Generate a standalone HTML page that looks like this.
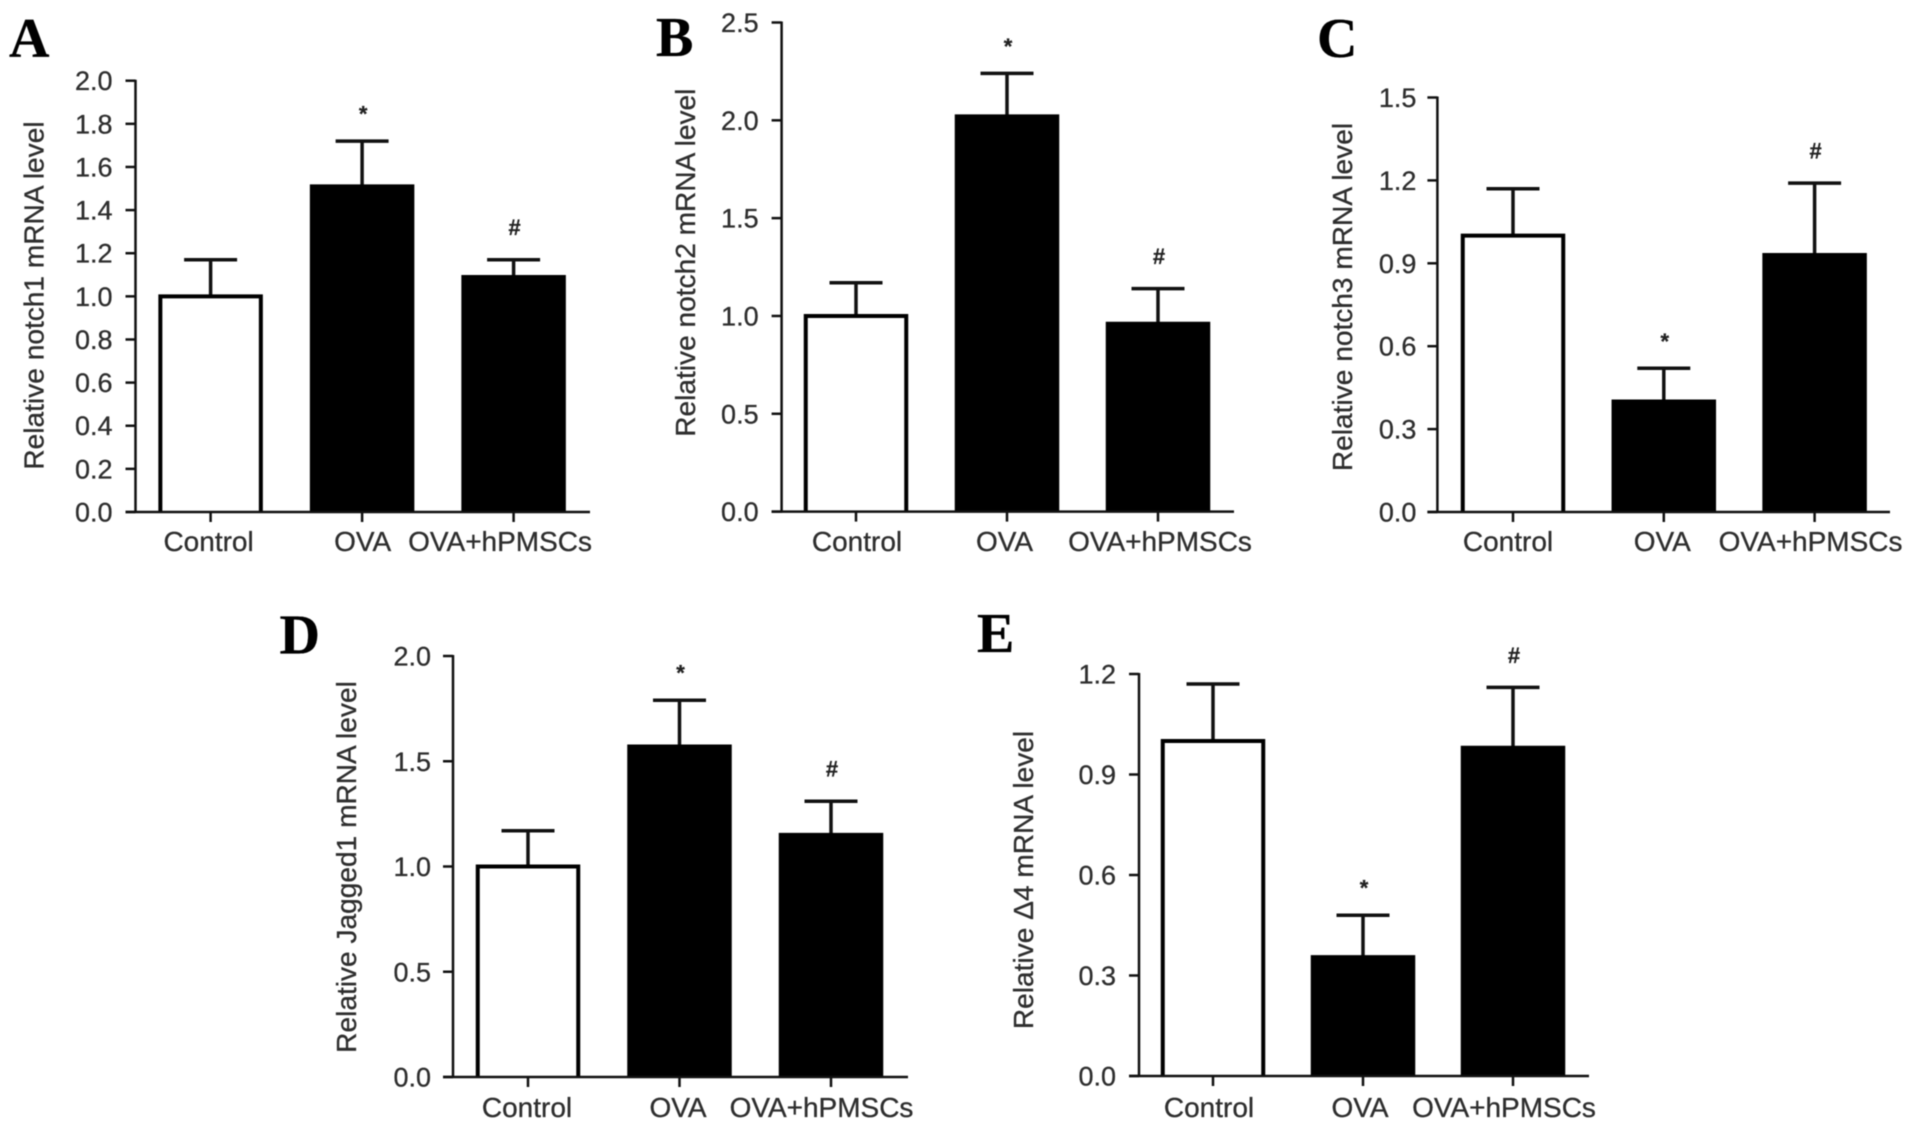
<!DOCTYPE html>
<html lang="en">
<head>
<meta charset="utf-8">
<title>Relative Notch and ligand mRNA levels</title>
<style>
html,body{margin:0;padding:0;background:#fff;width:1913px;height:1130px;overflow:hidden}
svg{display:block;filter:blur(0.5px)}
text{font-family:"Liberation Sans",sans-serif;fill:#2e2e2e;stroke:#2e2e2e;stroke-width:0.3px}
.panel-letter{font-family:"Liberation Serif",serif;font-weight:700;fill:#000;stroke:#000;font-size:56px}
.tick{font-size:27px}
.cat{font-size:28px}
.ytitle{font-size:28.1px}
.mark{font-size:22px;font-weight:700;fill:#222}
</style>
</head>
<body>
<svg id="figure" xmlns="http://www.w3.org/2000/svg" width="1913" height="1130" viewBox="0 0 1913 1130"></svg>
<script>
// ---- data ----
const categories = ["Control", "OVA", "OVA+hPMSCs"];

const notch1Means = [1.0, 1.51, 1.09];
const notch1ErrorTops = [1.17, 1.72, 1.17];
const notch1Ticks = ["0.0", "0.2", "0.4", "0.6", "0.8", "1.0", "1.2", "1.4", "1.6", "1.8", "2.0"];
const notch1Marks = ["", "*", "#"];

const notch2Means = [1.0, 2.02, 0.96];
const notch2ErrorTops = [1.17, 2.24, 1.14];
const notch2Ticks = ["0.0", "0.5", "1.0", "1.5", "2.0", "2.5"];
const notch2Marks = ["", "*", "#"];

const notch3Means = [1.0, 0.40, 0.93];
const notch3ErrorTops = [1.17, 0.52, 1.19];
const notch3Ticks = ["0.0", "0.3", "0.6", "0.9", "1.2", "1.5"];
const notch3Marks = ["", "*", "#"];

const jagged1Means = [1.0, 1.57, 1.15];
const jagged1ErrorTops = [1.17, 1.79, 1.31];
const jagged1Ticks = ["0.0", "0.5", "1.0", "1.5", "2.0"];
const jagged1Marks = ["", "*", "#"];

const delta4Means = [1.0, 0.355, 0.98];
const delta4ErrorTops = [1.17, 0.48, 1.16];
const delta4Ticks = ["0.0", "0.3", "0.6", "0.9", "1.2"];
const delta4Marks = ["", "*", "#"];

// ---- layout of each panel ----
const panels = [
  {id:"a", letter:"A", letterX:9, letterY:57, title:"Relative notch1 mRNA level",
   means:notch1Means, tops:notch1ErrorTops, ticks:notch1Ticks, marks:notch1Marks,
   axisX:135.5, top:80.7, base:512, xEnd:590, firstX:210.6, step:151.5, tickGap:23,
   labelShift:[-2,0.5,-13.5], labelY:551, titleX:43.5, titleY:295.5},
  {id:"b", letter:"B", letterX:656, letterY:56, title:"Relative notch2 mRNA level",
   means:notch2Means, tops:notch2ErrorTops, ticks:notch2Ticks, marks:notch2Marks,
   axisX:781.6, top:22.5, base:511.6, xEnd:1234, firstX:856, step:151, tickGap:23,
   labelShift:[1,-2.5,2], labelY:551, titleX:695, titleY:262.7},
  {id:"c", letter:"C", letterX:1317, letterY:57, title:"Relative notch3 mRNA level",
   means:notch3Means, tops:notch3ErrorTops, ticks:notch3Ticks, marks:notch3Marks,
   axisX:1437.4, top:97.5, base:512, xEnd:1890, firstX:1513, step:150.8, tickGap:21,
   labelShift:[-5,-1.5,-4], labelY:551, titleX:1352, titleY:297},
  {id:"d", letter:"D", letterX:279.5, letterY:653.5, title:"Relative Jagged1 mRNA level",
   means:jagged1Means, tops:jagged1ErrorTops, ticks:jagged1Ticks, marks:jagged1Marks,
   axisX:453, top:656, base:1077, xEnd:908, firstX:528, step:151.5, tickGap:22,
   labelShift:[-1,-1.5,-9.5], labelY:1117, titleX:356, titleY:867},
  {id:"e", letter:"E", letterX:977, letterY:652, title:"Relative \u03944 mRNA level",
   means:delta4Means, tops:delta4ErrorTops, ticks:delta4Ticks, marks:delta4Marks,
   axisX:1139, top:674, base:1076, xEnd:1589, firstX:1213, step:150, tickGap:23,
   labelShift:[-4,-3,-9], labelY:1117, titleX:1033, titleY:880}
];

const barFills = ["#fff", "#000", "#000"];
const BAR_W = 100.5, BAR_STROKE = 4, AXIS_W = 2.5, ERR_W = 3.5, CAP_W = 53, TICK_LEN = 10, MARK_GAP = 32.5;
const SVG_NS = "http://www.w3.org/2000/svg";
const root = document.getElementById("figure");

function make(parent, tag, attrs, content) {
  const el = document.createElementNS(SVG_NS, tag);
  for (const k in attrs) el.setAttribute(k, attrs[k]);
  if (content !== undefined) el.textContent = content;
  parent.appendChild(el);
  return el;
}

function line(parent, x1, y1, x2, y2, w) {
  return make(parent, "line", {x1:x1, y1:y1, x2:x2, y2:y2, stroke:"#111", "stroke-width":w});
}

function drawPanel(p) {
  // axis functions
  const maxValue = parseFloat(p.ticks[p.ticks.length - 1]);
  const yScale = v => p.base - (v / maxValue) * (p.base - p.top);
  const xScale = i => p.firstX + i * p.step;

  const g = make(root, "g", {});
  
  

  const letter = make(g, "text", {class:"panel-letter", x:p.letterX, y:p.letterY}, p.letter);
  
  

  const title = make(g, "text", {class:"ytitle", x:0, y:0, "text-anchor":"middle",
    transform:"translate(" + p.titleX + "," + p.titleY + ") rotate(-90)"}, p.title);
  
  

  // bars
  p.means.forEach(function (mean, i) {
    const cx = xScale(i), yTop = yScale(mean), yErr = yScale(p.tops[i]);
    const left = cx - BAR_W / 2, right = cx + BAR_W / 2;

    const stem = line(g, cx, yTop, cx, yErr, ERR_W);
    
    

    const cap = line(g, cx - CAP_W / 2, yErr, cx + CAP_W / 2, yErr, ERR_W);
    
    

    const bar = make(g, "path", {d:"M" + left + " " + p.base + "V" + yTop + "H" + right + "V" + p.base,
      fill:barFills[i], stroke:"#000", "stroke-width":BAR_STROKE});
    
    

    if (p.marks[i]) {
      const isStar = p.marks[i] === "*";
      const mark = make(g, "text", {class:"mark", x:cx + 1, y:yErr - MARK_GAP + (isStar ? 13 : 8),
        "text-anchor":"middle"}, p.marks[i]);
      
      
    }

    const tick = line(g, cx, p.base, cx, p.base + TICK_LEN, AXIS_W);
    
    

    const label = make(g, "text", {class:"cat", x:cx + p.labelShift[i], y:p.labelY,
      "text-anchor":"middle"}, categories[i]);
    
    
  });

  // axes
  const yAxis = line(g, p.axisX, p.top - 1, p.axisX, p.base + 1, AXIS_W);
  
  

  const xAxis = line(g, p.axisX - TICK_LEN, p.base, p.xEnd, p.base, AXIS_W);
  
  

  p.ticks.forEach(function (t) {
    const y = yScale(parseFloat(t));

    const tick = line(g, p.axisX - TICK_LEN, y, p.axisX, y, AXIS_W);
    
    

    const label = make(g, "text", {class:"tick", x:p.axisX - p.tickGap, y:y + 9.5, "text-anchor":"end"}, t);
    
    
  });
}

panels.forEach(drawPanel);
</script>
</body>
</html>
